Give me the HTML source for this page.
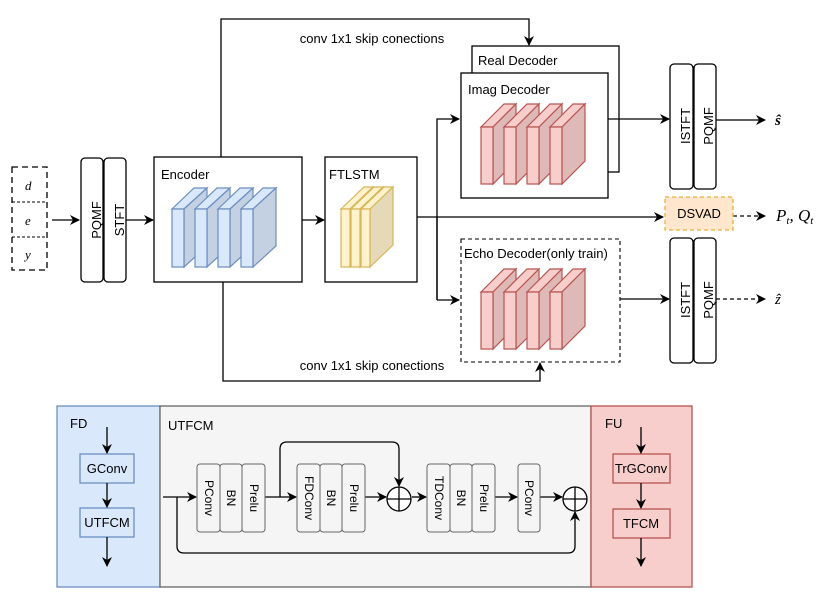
<!DOCTYPE html><html><head><style>body{margin:0;background:#fff}svg{display:block}text{font-family:"Liberation Sans",sans-serif;font-size:13px;fill:#000}</style></head><body>
<svg width="831" height="608" viewBox="0 0 831 608" xmlns="http://www.w3.org/2000/svg">
<defs><marker id="a" markerWidth="10" markerHeight="10" refX="9" refY="5" orient="auto" markerUnits="userSpaceOnUse"><path d="M0,0 L10,5 L0,10 L3,5z" fill="#000"/></marker></defs>
<g fill="none" stroke="#000" stroke-width="1.3">
<!-- inputs -->
<rect x="12" y="167" width="35" height="103" stroke-dasharray="6,4"/>
<line x1="12" y1="202" x2="47" y2="202" stroke-dasharray="3,2" stroke-width="1"/>
<line x1="12" y1="237" x2="47" y2="237" stroke-dasharray="3,2" stroke-width="1"/>
<line x1="52" y1="220" x2="79" y2="220" marker-end="url(#a)"/>
<rect x="81" y="158" width="22" height="124" rx="4"/>
<rect x="104" y="158" width="22" height="124" rx="4"/>
<line x1="126" y1="220" x2="153" y2="220" marker-end="url(#a)"/>
<rect x="154" y="157" width="148" height="125"/>
<line x1="302" y1="220" x2="324" y2="220" marker-end="url(#a)"/>
<rect x="325" y="157" width="92" height="125"/>
<!-- skips -->
<polyline points="221,157 221,19 529,19 529,45" marker-end="url(#a)"/>
<polyline points="223,282 223,381 540,381 540,363" marker-end="url(#a)"/>
<!-- branch -->
<line x1="417" y1="217" x2="663" y2="217" marker-end="url(#a)"/>
<polyline points="437,300 437,119 459,119" marker-end="url(#a)"/>
<line x1="437" y1="217" x2="437" y2="300"/>
<line x1="437" y1="300" x2="459" y2="300" marker-end="url(#a)"/>
<!-- decoders -->
<rect x="472" y="46" width="147" height="126" fill="#fff"/>
<rect x="461" y="73" width="147" height="125" fill="#fff"/>
<rect x="461" y="239" width="159" height="123" stroke-dasharray="4,3" stroke-width="1.1"/>
<line x1="608" y1="119" x2="669" y2="119" marker-end="url(#a)"/>
<line x1="620" y1="299" x2="669" y2="299" marker-end="url(#a)"/>
<rect x="670" y="64" width="23" height="125" rx="4"/>
<rect x="694" y="64" width="22" height="125" rx="4"/>
<rect x="670" y="238" width="23" height="125" rx="4"/>
<rect x="694" y="238" width="22" height="125" rx="4"/>
<line x1="716" y1="120" x2="765" y2="120" marker-end="url(#a)"/>
<line x1="733" y1="216" x2="765" y2="216" stroke-dasharray="4,3" marker-end="url(#a)"/>
<line x1="716" y1="299" x2="765" y2="299" stroke-dasharray="4,3" marker-end="url(#a)"/>
</g>
<rect x="665" y="197" width="68" height="33" fill="#ffe6cc" stroke="#e6b13a" stroke-width="1.3" stroke-dasharray="4,3"/>
<!-- slabs -->
<g id="blue" stroke="#6c8ebf" stroke-width="1.2">
<g transform="translate(172,209)"><path d="M0,0 L22,-21 L35,-21 L12,0z" fill="#dae8fc"/><path d="M12,0 L35,-21 L35,37 L12,58z" fill="#c4d1e3"/><rect width="12" height="58" fill="#dae8fc"/></g>
<g transform="translate(195,209)"><path d="M0,0 L22,-21 L35,-21 L12,0z" fill="#dae8fc"/><path d="M12,0 L35,-21 L35,37 L12,58z" fill="#c4d1e3"/><rect width="12" height="58" fill="#dae8fc"/></g>
<g transform="translate(218,209)"><path d="M0,0 L22,-21 L35,-21 L12,0z" fill="#dae8fc"/><path d="M12,0 L35,-21 L35,37 L12,58z" fill="#c4d1e3"/><rect width="12" height="58" fill="#dae8fc"/></g>
<g transform="translate(241,209)"><path d="M0,0 L22,-21 L35,-21 L12,0z" fill="#dae8fc"/><path d="M12,0 L35,-21 L35,37 L12,58z" fill="#c4d1e3"/><rect width="12" height="58" fill="#dae8fc"/></g>
</g>
<g stroke="#d6b656" stroke-width="1.2">
<g transform="translate(341,209)"><path d="M0,0 L23,-22 L32,-22 L9,0z" fill="#fff2cc"/><path d="M9,0 L32,-22 L32,36 L9,58z" fill="#e6d9b8"/><rect width="9" height="58" fill="#fff2cc"/></g>
<g transform="translate(351,209)"><path d="M0,0 L23,-22 L32,-22 L9,0z" fill="#fff2cc"/><path d="M9,0 L32,-22 L32,36 L9,58z" fill="#e6d9b8"/><rect width="9" height="58" fill="#fff2cc"/></g>
<g transform="translate(361,209)"><path d="M0,0 L23,-22 L32,-22 L9,0z" fill="#fff2cc"/><path d="M9,0 L32,-22 L32,36 L9,58z" fill="#e6d9b8"/><rect width="9" height="58" fill="#fff2cc"/></g>
</g>
<g stroke="#b85450" stroke-width="1.2">
<g transform="translate(481,127)"><path d="M0,0 L23,-23 L35,-23 L12,0z" fill="#f8cecc"/><path d="M12,0 L35,-23 L35,34 L12,57z" fill="#dfb9b7"/><rect width="12" height="57" fill="#f8cecc"/></g>
<g transform="translate(504,127)"><path d="M0,0 L23,-23 L35,-23 L12,0z" fill="#f8cecc"/><path d="M12,0 L35,-23 L35,34 L12,57z" fill="#dfb9b7"/><rect width="12" height="57" fill="#f8cecc"/></g>
<g transform="translate(527,127)"><path d="M0,0 L23,-23 L35,-23 L12,0z" fill="#f8cecc"/><path d="M12,0 L35,-23 L35,34 L12,57z" fill="#dfb9b7"/><rect width="12" height="57" fill="#f8cecc"/></g>
<g transform="translate(550,127)"><path d="M0,0 L23,-23 L35,-23 L12,0z" fill="#f8cecc"/><path d="M12,0 L35,-23 L35,34 L12,57z" fill="#dfb9b7"/><rect width="12" height="57" fill="#f8cecc"/></g>
<g transform="translate(481,292)"><path d="M0,0 L23,-23 L35,-23 L12,0z" fill="#f8cecc"/><path d="M12,0 L35,-23 L35,34 L12,57z" fill="#dfb9b7"/><rect width="12" height="57" fill="#f8cecc"/></g>
<g transform="translate(504,292)"><path d="M0,0 L23,-23 L35,-23 L12,0z" fill="#f8cecc"/><path d="M12,0 L35,-23 L35,34 L12,57z" fill="#dfb9b7"/><rect width="12" height="57" fill="#f8cecc"/></g>
<g transform="translate(527,292)"><path d="M0,0 L23,-23 L35,-23 L12,0z" fill="#f8cecc"/><path d="M12,0 L35,-23 L35,34 L12,57z" fill="#dfb9b7"/><rect width="12" height="57" fill="#f8cecc"/></g>
<g transform="translate(550,292)"><path d="M0,0 L23,-23 L35,-23 L12,0z" fill="#f8cecc"/><path d="M12,0 L35,-23 L35,34 L12,57z" fill="#dfb9b7"/><rect width="12" height="57" fill="#f8cecc"/></g>
</g>
<!-- top texts -->
<g font-family="Liberation Serif" font-style="italic">
<text x="25" y="190" style="font-family:'Liberation Serif',serif;font-style:italic">d</text>
<text x="25" y="225" style="font-family:'Liberation Serif',serif;font-style:italic">e</text>
<text x="25" y="259" style="font-family:'Liberation Serif',serif;font-style:italic">y</text>
<text x="775" y="125" style="font-family:'Liberation Serif',serif;font-style:italic;font-weight:bold;font-size:15px">ŝ</text>
<text x="776" y="221" style="font-family:'Liberation Serif',serif;font-style:italic;font-size:17px">P<tspan font-size="11" dy="3">t</tspan><tspan dy="-3">, Q</tspan><tspan font-size="11" dy="3">t</tspan></text>
<text x="775" y="304" style="font-family:'Liberation Serif',serif;font-style:italic;font-size:15px">ẑ</text>
</g>
<text transform="translate(97,220) rotate(-90)" text-anchor="middle" dy="4">PQMF</text>
<text transform="translate(120,220) rotate(-90)" text-anchor="middle" dy="4">STFT</text>
<text transform="translate(686,126) rotate(-90)" text-anchor="middle" dy="4">ISTFT</text>
<text transform="translate(709,126) rotate(-90)" text-anchor="middle" dy="4">PQMF</text>
<text transform="translate(686,300) rotate(-90)" text-anchor="middle" dy="4">ISTFT</text>
<text transform="translate(709,300) rotate(-90)" text-anchor="middle" dy="4">PQMF</text>
<text x="161" y="179">Encoder</text>
<text x="329" y="179">FTLSTM</text>
<text x="478" y="65">Real Decoder</text>
<text x="468" y="94">Imag Decoder</text>
<text x="464" y="258">Echo Decoder(only train)</text>
<text x="699" y="218" text-anchor="middle">DSVAD</text>
<text x="372" y="43" text-anchor="middle">conv 1x1 skip conections</text>
<text x="372" y="370" text-anchor="middle">conv 1x1 skip conections</text>
<!-- bottom panels -->
<rect x="57" y="406" width="103" height="181" fill="#dae8fc" stroke="#6c8ebf" stroke-width="1.3"/>
<rect x="160" y="406" width="431" height="181" fill="#f5f5f5" stroke="#666" stroke-width="1.3"/>
<rect x="591" y="406" width="101" height="181" fill="#f8cecc" stroke="#b85450" stroke-width="1.3"/>
<text x="70" y="428">FD</text><text x="168" y="430">UTFCM</text><text x="605" y="428">FU</text>
<rect x="80" y="454" width="54" height="29" fill="#dae8fc" stroke="#6c8ebf" stroke-width="1.3"/>
<rect x="80" y="508" width="54" height="29" fill="#dae8fc" stroke="#6c8ebf" stroke-width="1.3"/>
<text x="107" y="473" text-anchor="middle">GConv</text><text x="107" y="527" text-anchor="middle">UTFCM</text>
<rect x="613" y="454" width="57" height="29" fill="#f8cecc" stroke="#b85450" stroke-width="1.3"/>
<rect x="613" y="509" width="57" height="29" fill="#f8cecc" stroke="#b85450" stroke-width="1.3"/>
<text x="641" y="473" text-anchor="middle">TrGConv</text><text x="641" y="528" text-anchor="middle">TFCM</text>
<g fill="none" stroke="#000" stroke-width="1.3">
<line x1="107" y1="427" x2="107" y2="453" marker-end="url(#a)"/>
<line x1="107" y1="483" x2="107" y2="507" marker-end="url(#a)"/>
<line x1="107" y1="537" x2="107" y2="566" marker-end="url(#a)"/>
<line x1="641" y1="427" x2="641" y2="453" marker-end="url(#a)"/>
<line x1="641" y1="483" x2="641" y2="508" marker-end="url(#a)"/>
<line x1="641" y1="538" x2="641" y2="566" marker-end="url(#a)"/>
<line x1="163" y1="497" x2="196" y2="497" marker-end="url(#a)"/>
<path d="M177,497 L177,546 Q177,553 184,553 L568,553 Q575,553 575,546 L575,512" marker-end="url(#a)"/>
<line x1="265" y1="497" x2="296" y2="497" marker-end="url(#a)"/>
<path d="M280,497 L280,449 Q280,442 287,442 L392,442 Q399,442 399,449 L399,486" marker-end="url(#a)"/>
<line x1="365" y1="497" x2="386" y2="497" marker-end="url(#a)"/>
<line x1="412" y1="497" x2="426" y2="497" marker-end="url(#a)"/>
<line x1="495" y1="497" x2="517" y2="497" marker-end="url(#a)"/>
<line x1="540" y1="497" x2="562" y2="497" marker-end="url(#a)"/>
<circle cx="399" cy="499" r="12" fill="#fff"/><line x1="387" y1="499" x2="411" y2="499"/><line x1="399" y1="487" x2="399" y2="511"/>
<circle cx="575" cy="499" r="12" fill="#fff"/><line x1="563" y1="499" x2="587" y2="499"/><line x1="575" y1="487" x2="575" y2="511"/>
</g>
<g fill="#f5f5f5" stroke="#666" stroke-width="1">
<rect x="197" y="464" width="23" height="68" rx="3"/><rect x="220" y="464" width="22" height="68" rx="3"/><rect x="242" y="464" width="23" height="68" rx="3"/>
<rect x="297" y="464" width="23" height="68" rx="3"/><rect x="320" y="464" width="22" height="68" rx="3"/><rect x="342" y="464" width="23" height="68" rx="3"/>
<rect x="427" y="464" width="23" height="68" rx="3"/><rect x="450" y="464" width="22" height="68" rx="3"/><rect x="472" y="464" width="23" height="68" rx="3"/>
<rect x="518" y="464" width="22" height="68" rx="3"/>
</g>
<g style="font-size:12px">
<text transform="translate(209,498) rotate(90)" text-anchor="middle" dy="4" style="font-size:12px">PConv</text>
<text transform="translate(231,498) rotate(90)" text-anchor="middle" dy="4" style="font-size:12px">BN</text>
<text transform="translate(254,498) rotate(90)" text-anchor="middle" dy="4" style="font-size:12px">Prelu</text>
<text transform="translate(309,498) rotate(90)" text-anchor="middle" dy="4" style="font-size:12px">FDConv</text>
<text transform="translate(331,498) rotate(90)" text-anchor="middle" dy="4" style="font-size:12px">BN</text>
<text transform="translate(354,498) rotate(90)" text-anchor="middle" dy="4" style="font-size:12px">Prelu</text>
<text transform="translate(439,498) rotate(90)" text-anchor="middle" dy="4" style="font-size:12px">TDConv</text>
<text transform="translate(461,498) rotate(90)" text-anchor="middle" dy="4" style="font-size:12px">BN</text>
<text transform="translate(484,498) rotate(90)" text-anchor="middle" dy="4" style="font-size:12px">Prelu</text>
<text transform="translate(529,498) rotate(90)" text-anchor="middle" dy="4" style="font-size:12px">PConv</text>
</g>
</svg></body></html>
